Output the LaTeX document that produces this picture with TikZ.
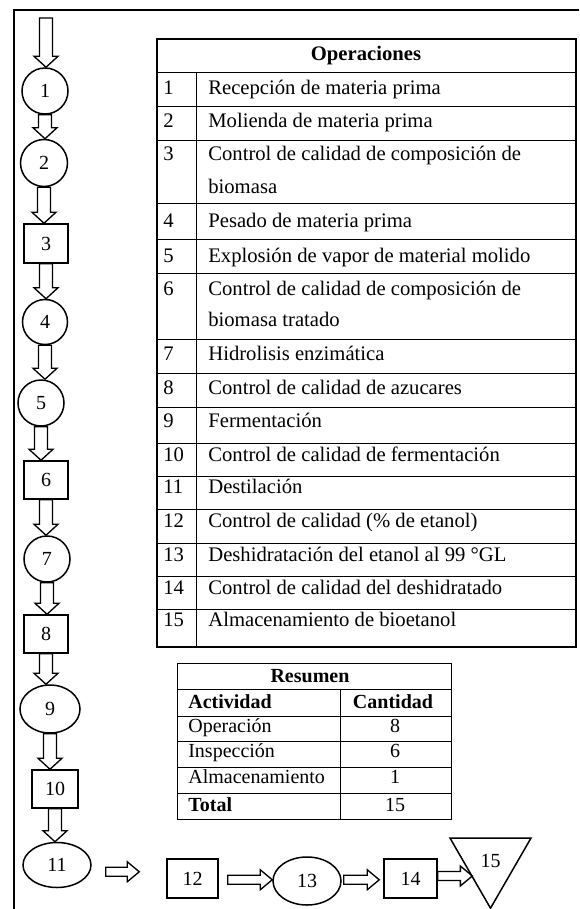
\documentclass[tikz,border=0pt]{standalone}
\usepackage{fontspec}
\setmainfont{Liberation Serif}
\usepackage{tikz}
\usetikzlibrary{calc}
\usetikzlibrary{shapes,shapes.geometric}
\newdimen\unitpx
\unitpx=0.6pt
\tikzset{
  stage/.style={draw, line width=0.9pt, inner sep=0pt, font=\fontsize{12}{14}\selectfont},
  opcircle/.style={stage, circle, minimum size=#1\unitpx},
  opoval/.style 2 args={stage, ellipse, minimum width=#1\unitpx, minimum height=#2\unitpx},
  inspbox/.style 2 args={stage, rectangle, minimum width=#1\unitpx, minimum height=#2\unitpx},
  storetri/.style={stage, regular polygon, regular polygon sides=3, shape border rotate=180, minimum size=#1\unitpx},
  flowline/.style={draw, line width=0.8pt, line join=miter},
  thinrule/.style={line width=0.6pt},
}
% hollow block arrows
\newcommand{\flowdown}[2]{%
  \draw[flowline] let \p1=(#1), \p2=(#2) in
    (\x1-3.9pt,\y1) -- (\x1-3.9pt,\y2+6.6pt) -- (\x1-7.2pt,\y2+6.6pt)
    -- (\x1,\y2) -- (\x1+7.2pt,\y2+6.6pt) -- (\x1+3.9pt,\y2+6.6pt)
    -- (\x1+3.9pt,\y1) -- cycle;}
\newcommand{\flowright}[4]{%
  \draw[flowline] let \p1=(#1), \p2=(#2), \n3={0.5*(\y1+\y2)} in
    (\x1+#3,\n3*1pt-2.7pt) -- (\x2-#4-7.2pt,\n3*1pt-2.7pt) -- (\x2-#4-7.2pt,\n3*1pt-6pt)
    -- (\x2-#4,\n3*1pt) -- (\x2-#4-7.2pt,\n3*1pt+6pt) -- (\x2-#4-7.2pt,\n3*1pt+2.7pt)
    -- (\x1+#3,\n3*1pt+2.7pt) -- cycle;}

\begin{document}
\begin{tikzpicture}[x=0.6pt, y=-0.6pt, font=\fontsize{12.4}{15}\selectfont]
  \useasboundingbox (0,0) rectangle (579,909);
  \draw[line width=1pt] (579,10) -- (14,10) -- (14,909);

  % flow of the process
  \coordinate (feed) at (46,18);
  \node[opcircle=46] (c1) at (45,91) {1};
  \node[opcircle=47] (c2) at (44,163) {2};
  \node[inspbox={44}{39}] (b3) at (46,243.5) {3};
  \node[opcircle=45] (c4) at (45,322) {4};
  \node[opcircle=46] (c5) at (41,403) {5};
  \node[inspbox={44}{38}] (b6) at (46,480) {6};
  \node[opcircle=46] (c7) at (47,559) {7};
  \node[inspbox={44}{38}] (b8) at (46,634) {8};
  \node[opoval={60}{48}] (e9) at (50,709) {9};
  \node[inspbox={46}{38}] (b10) at (55,789) {10};
  \node[opoval={68}{45}] (e11) at (57,865) {11};
  \node[inspbox={51}{39}] (b12) at (192.5,878.5) {12};
  \node[opoval={68}{48}] (e13) at (307,881) {13};
  \node[inspbox={53}{39}] (b14) at (410.5,878.5) {14};
  \node[storetri=93.6] (t15) at (490.5,861.4) {15};

  \flowdown{feed}{c1.north}
  \foreach \a/\b in {c1/c2, c2/b3, b3/c4, c4/c5, c5/b6, b6/c7, c7/b8, b8/e9, e9/b10, b10/e11}
    \flowdown{\a.south}{\b.north};
  \flowright{e11.east}{b12.west}{8.4pt}{16.2pt}
  \flowright{b12.east}{e13.west}{5.4pt}{0pt}
  \flowright{e13.east}{b14.west}{1.2pt}{2.4pt}
  \flowright{b14.east}{t15.side 3}{0pt}{0pt+1.65pt}

  % table of operations
  \draw[line width=1.2pt] (157,39) rectangle (576,647);
  \foreach \y in {72,106,140,203,239,273,339,373,407,443,476,509,543,576,609}
    \draw[thinrule] (157,\y) -- (576,\y);
  \draw[thinrule] (196,72) -- (196,647);
  \node[font=\fontsize{12.4}{15}\bfseries, anchor=base] (ophead) at (366,60) {Operaciones};
  \foreach \n/\y/\t in {1/94/{Recepción de materia prima},
      2/127/{Molienda de materia prima},
      3/160/{Control de calidad de composición de},
      4/227/{Pesado de materia prima},
      5/262/{Explosión de vapor de material molido},
      6/295/{Control de calidad de composición de},
      7/360/{Hidrolisis enzimática},
      8/394/{Control de calidad de azucares},
      9/427/{Fermentación},
      10/461/{Control de calidad de fermentación},
      11/493/{Destilación},
      12/527/{Control de calidad (\% de etanol)},
      13/561/{Deshidratación del etanol al 99 °GL},
      14/594/{Control de calidad del deshidratado},
      15/626/{Almacenamiento de bioetanol}} {
    \node[anchor=base west, inner sep=0pt] (num\n) at (163,\y) {\n};
    \node[anchor=base west, inner sep=0pt] (op\n) at (208,\y) {\t};
  }
  \node[anchor=base west, inner sep=0pt] (op3b) at (208,193) {biomasa};
  \node[anchor=base west, inner sep=0pt] (op6b) at (208,326) {biomasa tratado};

  % summary table
  \draw[thinrule] (177,663) rectangle (451,819);
  \foreach \y in {689,716,741,767,793}
    \draw[thinrule] (177,\y) -- (451,\y);
  \draw[thinrule] (340,689) -- (340,819);
  \begin{scope}[font=\fontsize{12}{14}\selectfont]
    \node[font=\fontsize{12}{14}\bfseries, anchor=base] (sumhead) at (310,682) {Resumen};
    \node[font=\fontsize{12}{14}\bfseries, anchor=base west, inner sep=0pt] (acthead) at (188,708) {Actividad};
    \node[font=\fontsize{12}{14}\bfseries, anchor=base] (qtyhead) at (393,708) {Cantidad};
    \node[anchor=base west, inner sep=0pt] (actop) at (188,732) {Operación};
    \node[anchor=base] (qtyop) at (395,732) {8};
    \node[anchor=base west, inner sep=0pt] (actin) at (188,757) {Inspección};
    \node[anchor=base] (qtyin) at (395,757) {6};
    \node[anchor=base west, inner sep=0pt] (actst) at (188,783) {Almacenamiento};
    \node[anchor=base] (qtyst) at (395,783) {1};
    \node[font=\fontsize{12}{14}\bfseries, anchor=base west, inner sep=0pt] (acttot) at (188,811) {Total};
    \node[anchor=base] (qtytot) at (395,811) {15};
  \end{scope}
\end{tikzpicture}
\end{document}
